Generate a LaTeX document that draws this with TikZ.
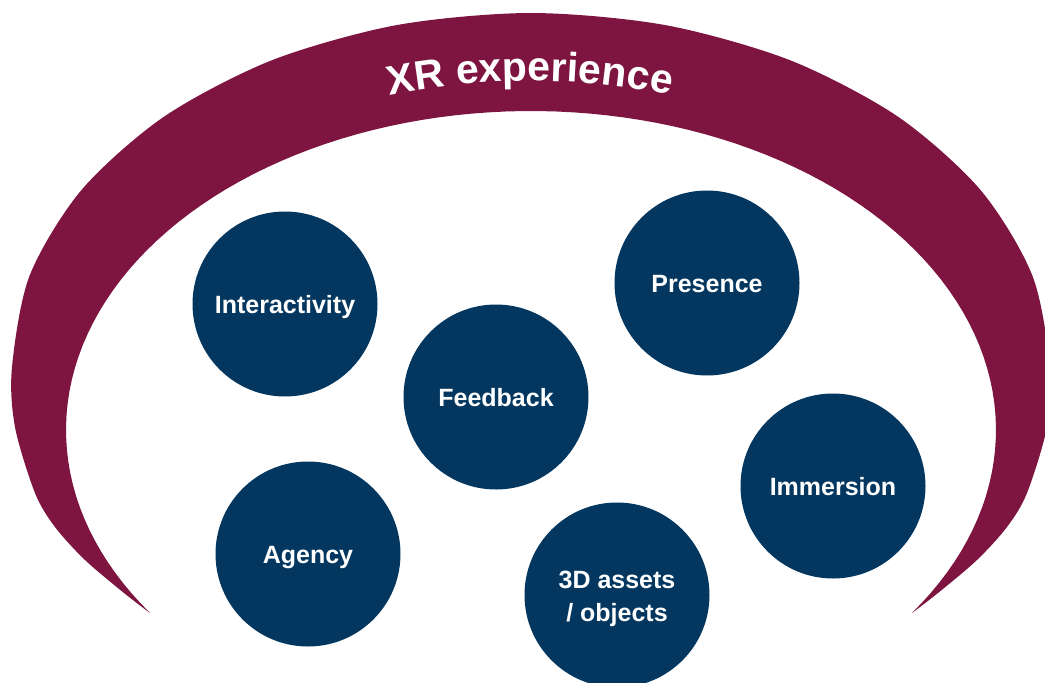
\documentclass[tikz,border=0pt]{standalone}
\usepackage{fontspec}
\setmainfont{Liberation Sans}
\usetikzlibrary{decorations.text}
\definecolor{xrmaroon}{RGB}{126,21,65}
\definecolor{xrnavy}{RGB}{3,55,95}
\tikzset{
  bubble/.style={circle, fill=xrnavy, minimum size=185pt, inner sep=0pt,
    text=white, align=center, font=\bfseries\fontsize{25}{33}\selectfont},
  oneline/.style={text height=18.2pt, text depth=0pt}
}
\begin{document}
\begin{tikzpicture}[x=1pt,y=-1pt]
\useasboundingbox (0,0) rectangle (1045,683);
% crescent
\fill[xrmaroon]
  plot[smooth] coordinates {(150,613) (124,593) (85,560) (55,527) (35,493) (15,427) (12,367) (29.7,275.4) (81.5,190) (164,116.7) (271.5,60.4) (396.7,25.1) (531,13) (665.3,25.1) (790.5,60.4) (898,116.7) (980.5,190) (1032.3,275.4) (1050,367) (1047,427) (1027,493) (1007,527) (977,560) (938,593) (912,613)}
  -- plot[domain=-35:215, samples=120] ({531+465*cos(\x)},{430-319*sin(\x)})
  -- cycle;
% curved title
\path[decorate, decoration={text along path, text align=center, text color=white,
  text={|\bfseries\fontsize{41}{48}\selectfont|XR experience}}]
  (180,174.8) arc[start angle=240, end angle=300, radius=700];
% bubbles
\node[bubble, oneline] (inter) at (285,304) {Interactivity};
\node[bubble, oneline] (feed) at (496,397) {Feedback};
\node[bubble, oneline] (pres) at (707,283) {Presence};
\node[bubble, oneline] (imm) at (833,486) {Immersion};
\node[bubble, oneline] (agency) at (308,554) {Agency};
\node[bubble] (assets) at (617,595) {};
\node[text=white, align=center, font=\bfseries\fontsize{25}{33}\selectfont, yshift=-4pt] (assetstext) at (assets.center) {3D assets\\/ objects};
\end{tikzpicture}
\end{document}
